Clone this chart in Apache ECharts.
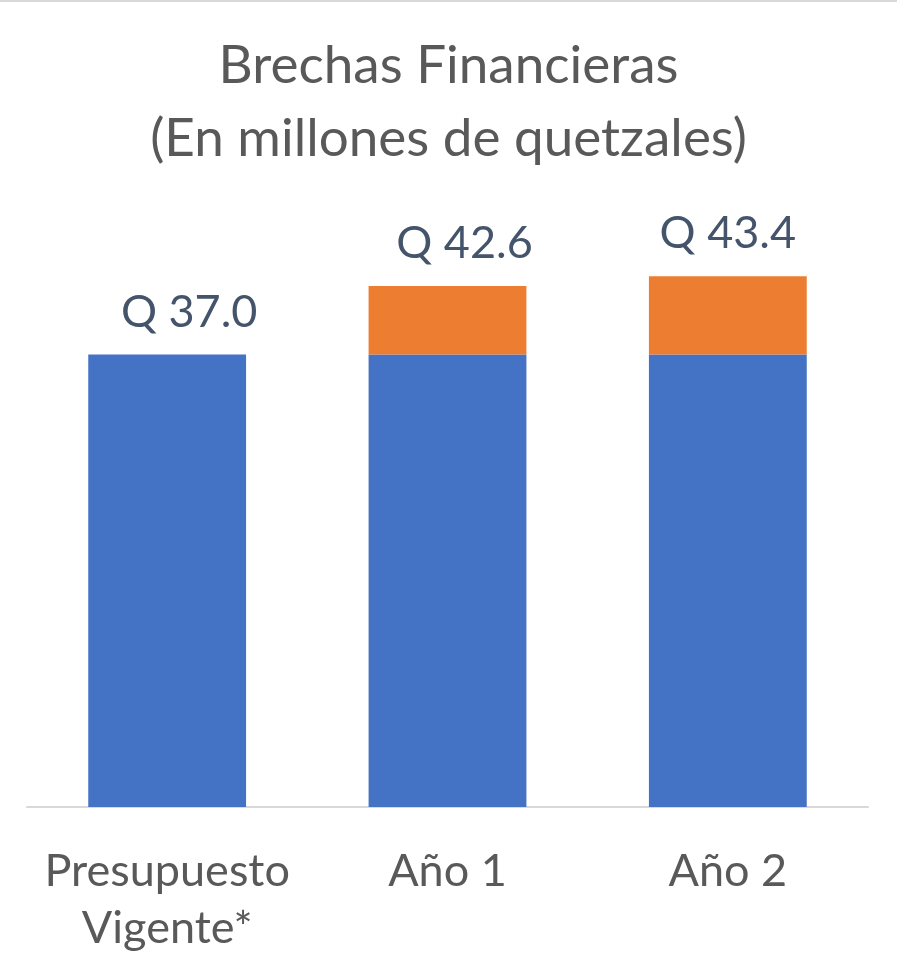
<!DOCTYPE html>
<html><head><meta charset="utf-8">
<script src="https://cdn.jsdelivr.net/npm/echarts@6/dist/echarts.min.js"></script>
<style>html,body{margin:0;padding:0;background:#fff}#c{width:897px;height:974px;border-top:2px solid #d9d9d9;box-sizing:border-box}</style>
</head><body><div id="c"></div>
<script>
var categories = ['Presupuesto\nVigente*', 'Año 1', 'Año 2'];
var baseValues = [37.0, 37.0, 37.0];
var gapValues = [0, 5.6, 6.4];
var totals = [37.0, 42.6, 43.4];
var chart = echarts.init(document.getElementById('c'));
var labelShift = [[22, 0], [17, 0], [0, 0]];
chart.setOption({
  animation: false,
  title: {
    text: 'Brechas Financieras\n(En millones de quetzales)',
    left: 'center', top: 22,
    textStyle: {fontFamily: 'Lato', fontWeight: 'normal', fontSize: 53, color: '#595959', lineHeight: 73}
  },
  grid: {left: 27, right: 29, top: 193.5, bottom: 167},
  xAxis: {
    type: 'category', data: categories,
    axisLine: {lineStyle: {color: '#d9d9d9', width: 2}},
    axisTick: {show: false},
    axisLabel: {interval: 0, hideOverlap: false, fontFamily: 'Lato', fontSize: 45, color: '#595959', lineHeight: 57, margin: 36}
  },
  yAxis: {type: 'value', min: 0, max: 50, show: false, splitLine: {show: false}},
  series: [
    {type: 'bar', stack: 's', data: baseValues, barCategoryGap: '43.7%', itemStyle: {color: '#4472C4'}},
    {type: 'bar', stack: 's',
      data: gapValues.map(function(v, i){ return {value: v, label: {offset: labelShift[i]}}; }),
      itemStyle: {color: '#ED7D31'},
      label: {show: true, position: 'top', distance: 20, fontFamily: 'Lato', fontSize: 45, color: '#44546A',
        formatter: function(p){ return 'Q ' + totals[p.dataIndex].toFixed(1); }}}
  ]
});
</script></body></html>
